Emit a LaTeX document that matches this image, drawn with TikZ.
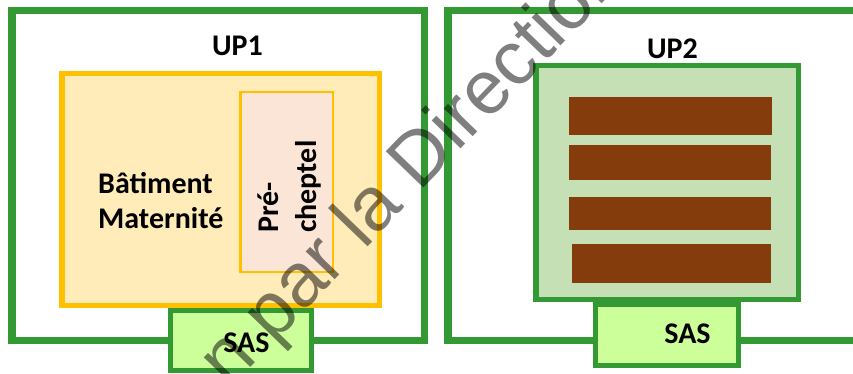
\documentclass[tikz,border=0pt]{standalone}
\usepackage{fontspec}
\setmainfont{Carlito}
\newfontfamily\wmfont{Liberation Sans}
\definecolor{upgreen}{HTML}{339933}
\definecolor{gold}{HTML}{FFC000}
\definecolor{goldfill}{HTML}{FFECB8}
\definecolor{peach}{HTML}{FBE5D6}
\definecolor{sasfill}{HTML}{CCFF99}
\definecolor{sagefill}{HTML}{C5E0B4}
\definecolor{brown}{HTML}{843C0C}
\begin{document}
\begin{tikzpicture}[x=1pt,y=-1pt,
  box/.style={rectangle, inner sep=0pt, outer sep=0pt},
  upbox/.style={box, draw=upgreen, line width=7.5pt, fill=white},
  batbox/.style={box, draw=gold, line width=5.5pt, fill=goldfill},
  prebox/.style={box, draw=gold, line width=2.5pt, fill=peach},
  sasbox/.style={box, draw=upgreen, line width=5pt, fill=sasfill},
  sagebox/.style={box, draw=upgreen, line width=5.5pt, fill=sagefill},
  bar/.style={box, fill=brown},
  lbl/.style={inner sep=0pt, text=black, font=\fontsize{30}{36}\selectfont\bfseries},
  wm/.style={inner sep=0pt, text=black, text opacity=0.5, font=\wmfont\fontsize{76}{90}\selectfont}
]
\useasboundingbox (0,0) rectangle (853,374);
\clip (0,0) rectangle (853,374);

% UP1
\node[upbox, minimum width=412.5pt, minimum height=329.5pt] (up1) at (218,175.5) {};
\node[batbox, minimum width=317.5pt, minimum height=231.5pt] (bat) at (220.5,189.5) {};
\node[prebox, minimum width=92.5pt, minimum height=179.5pt] (pre) at (286.5,182) {};
\node[sasbox, minimum width=141pt, minimum height=60pt] (sas1) at (241,340.5) {};

% UP2
\node[upbox, minimum width=412pt, minimum height=329.5pt] (up2) at (654,175.5) {};
\node[sagebox, minimum width=262.5pt, minimum height=233.5pt] (sage) at (667,182.5) {};
\node[bar, minimum width=203pt, minimum height=38pt] (b1) at (670.5,116) {};
\node[bar, minimum width=202pt, minimum height=35pt] (b2) at (670,162.5) {};
\node[bar, minimum width=202pt, minimum height=33pt] (b3) at (670,213.5) {};
\node[bar, minimum width=199pt, minimum height=39pt] (b4) at (671.5,263.5) {};
\node[sasbox, minimum width=143pt, minimum height=61pt] (sas2) at (667,335) {};

% labels
\node[lbl, anchor=base] (l1) at (237.5,56) {UP1};
\node[lbl, anchor=base] (l2) at (672.5,59) {UP2};
\node[lbl, anchor=base west, align=left, font=\fontsize{30}{35}\selectfont\bfseries] (lbat) at (98,228) {Bâtiment\\Maternité};
\node[lbl, anchor=base west, align=left, rotate=90, font=\fontsize{30}{38}\selectfont\bfseries] (lpre) at (316,233) {Pré-\\cheptel};
\node[lbl, anchor=base] (ls1) at (246.5,352) {SAS};
\node[lbl, anchor=base] (ls2) at (687.5,343) {SAS};

% watermark
\node[wm, anchor=base west, rotate=46] (wmk) at (229,390) {n par la Direction};
\end{tikzpicture}
\end{document}
